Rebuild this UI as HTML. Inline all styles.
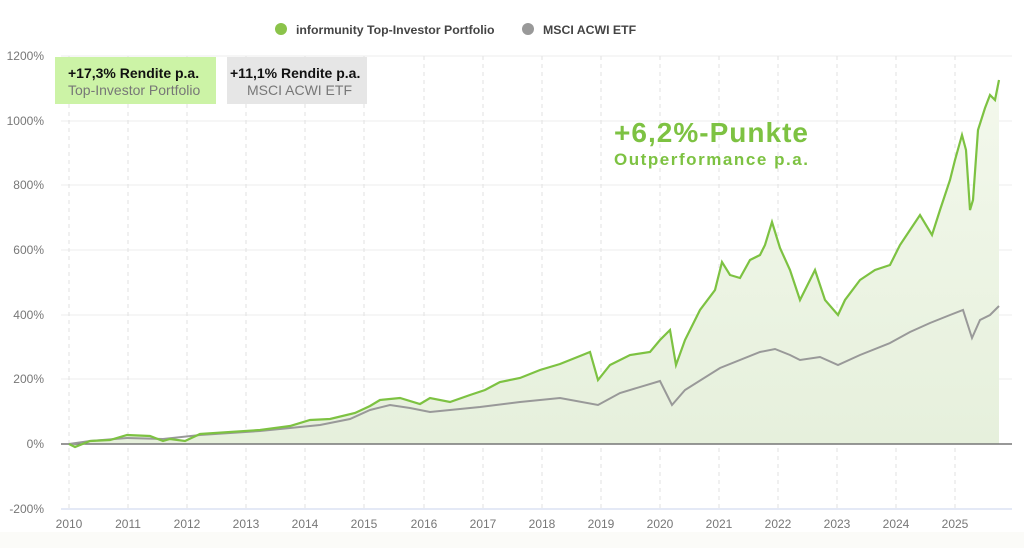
<!DOCTYPE html>
<html><head><meta charset="utf-8"><style>
body{margin:0;background:#fff;}
svg{display:block;font-family:"Liberation Sans",sans-serif;}
</style></head><body>
<svg width="1024" height="548" viewBox="0 0 1024 548">
<defs><linearGradient id="g" x1="0" y1="0" x2="0" y2="1"><stop offset="0" stop-color="#f3f8ec"/><stop offset="1" stop-color="#e6f0dc"/></linearGradient></defs>
<rect x="0" y="532" width="1024" height="16" fill="#fbfbf8"/>
<g stroke="#ececec" stroke-width="1">
<line x1="61" y1="56" x2="1012" y2="56"/><line x1="61" y1="121" x2="1012" y2="121"/><line x1="61" y1="185" x2="1012" y2="185"/><line x1="61" y1="250" x2="1012" y2="250"/><line x1="61" y1="315" x2="1012" y2="315"/><line x1="61" y1="379" x2="1012" y2="379"/>
</g>
<g stroke="#e2e2e2" stroke-dasharray="4,4">
<line x1="69" y1="56" x2="69" y2="509"/><line x1="128" y1="56" x2="128" y2="509"/><line x1="187" y1="56" x2="187" y2="509"/><line x1="246" y1="56" x2="246" y2="509"/><line x1="305" y1="56" x2="305" y2="509"/><line x1="364" y1="56" x2="364" y2="509"/><line x1="424" y1="56" x2="424" y2="509"/><line x1="483" y1="56" x2="483" y2="509"/><line x1="542" y1="56" x2="542" y2="509"/><line x1="601" y1="56" x2="601" y2="509"/><line x1="660" y1="56" x2="660" y2="509"/><line x1="719" y1="56" x2="719" y2="509"/><line x1="778" y1="56" x2="778" y2="509"/><line x1="837" y1="56" x2="837" y2="509"/><line x1="896" y1="56" x2="896" y2="509"/><line x1="955" y1="56" x2="955" y2="509"/>
</g>
<line x1="61" y1="509" x2="1012" y2="509" stroke="#c9d3ee"/>
<polygon fill="url(#g)" points="69,444 75,447 90,441 110,440 127,435 150,436 163,441 170,439 185,441 200,434 230,432 260,430 290,426 310,420 330,419 355,413 370,406 380,400 400,398 420,404 430,398 450,402 470,395 485,390 500,382 520,378 540,370 560,364 580,356 590,352 598,380 610,365 630,355 650,352 660,340 670,330 676,365 685,340 700,310 715,290 722,262 730,275 740,278 750,260 760,255 765,245 772,222 780,248 790,270 800,300 805,290 815,270 825,300 838,315 845,300 860,280 875,270 890,265 900,245 910,230 920,215 932,235 940,210 950,180 955,160 962,135 966,150 970,210 973,200 978,130 985,108 990,95 995,100 999,80 999,444"/>
<line x1="61" y1="444" x2="1012" y2="444" stroke="#777" stroke-width="1.5"/>
<polyline fill="none" stroke="#999" stroke-width="2" points="69,444 90,441 127,438 163,439 200,435 260,431 320,425 350,419 370,410 390,405 410,408 430,412 450,410 480,407 520,402 560,398 598,405 620,393 660,381 672,405 685,390 720,368 760,352 775,349 790,355 800,360 820,357 838,365 860,355 890,343 910,332 930,323 950,315 963,310 972,338 980,320 990,315 999,306"/>
<polyline fill="none" stroke="#7dc242" stroke-width="2.2" points="69,444 75,447 90,441 110,440 127,435 150,436 163,441 170,439 185,441 200,434 230,432 260,430 290,426 310,420 330,419 355,413 370,406 380,400 400,398 420,404 430,398 450,402 470,395 485,390 500,382 520,378 540,370 560,364 580,356 590,352 598,380 610,365 630,355 650,352 660,340 670,330 676,365 685,340 700,310 715,290 722,262 730,275 740,278 750,260 760,255 765,245 772,222 780,248 790,270 800,300 805,290 815,270 825,300 838,315 845,300 860,280 875,270 890,265 900,245 910,230 920,215 932,235 940,210 950,180 955,160 962,135 966,150 970,210 973,200 978,130 985,108 990,95 995,100 999,80"/>
<g fill="#777" font-size="12" text-anchor="end">
<text x="44" y="60">1200%</text><text x="44" y="125">1000%</text><text x="44" y="189">800%</text><text x="44" y="254">600%</text><text x="44" y="319">400%</text><text x="44" y="383">200%</text><text x="44" y="448">0%</text><text x="44" y="513">-200%</text>
</g>
<g fill="#777" font-size="12" text-anchor="middle">
<text x="69" y="528">2010</text><text x="128" y="528">2011</text><text x="187" y="528">2012</text><text x="246" y="528">2013</text><text x="305" y="528">2014</text><text x="364" y="528">2015</text><text x="424" y="528">2016</text><text x="483" y="528">2017</text><text x="542" y="528">2018</text><text x="601" y="528">2019</text><text x="660" y="528">2020</text><text x="719" y="528">2021</text><text x="778" y="528">2022</text><text x="837" y="528">2023</text><text x="896" y="528">2024</text><text x="955" y="528">2025</text>
</g>
<circle cx="281" cy="29" r="6" fill="#8bc34a"/>
<text x="296" y="34" font-size="12.3" font-weight="bold" fill="#444">informunity Top-Investor Portfolio</text>
<circle cx="528" cy="29" r="6" fill="#999"/>
<text x="543" y="34" font-size="12.3" font-weight="bold" fill="#444">MSCI ACWI ETF</text>
<rect x="55" y="57" width="161" height="47" fill="#ccf3a6"/>
<text x="68" y="78" font-size="14" font-weight="bold" fill="#111">+17,3% Rendite p.a.</text>
<text x="68" y="95" font-size="14" fill="#777">Top-Investor Portfolio</text>
<rect x="227" y="57" width="140" height="47" fill="#e6e6e6"/>
<text x="230" y="78" font-size="14" font-weight="bold" fill="#111">+11,1% Rendite p.a.</text>
<text x="247" y="95" font-size="14" fill="#777">MSCI ACWI ETF</text>
<text x="614" y="142" font-size="28" font-weight="bold" fill="#7dc242" textLength="194">+6,2%-Punkte</text>
<text x="614" y="165" font-size="17" font-weight="bold" fill="#7dc242" textLength="194">Outperformance p.a.</text>
</svg>
</body></html>
